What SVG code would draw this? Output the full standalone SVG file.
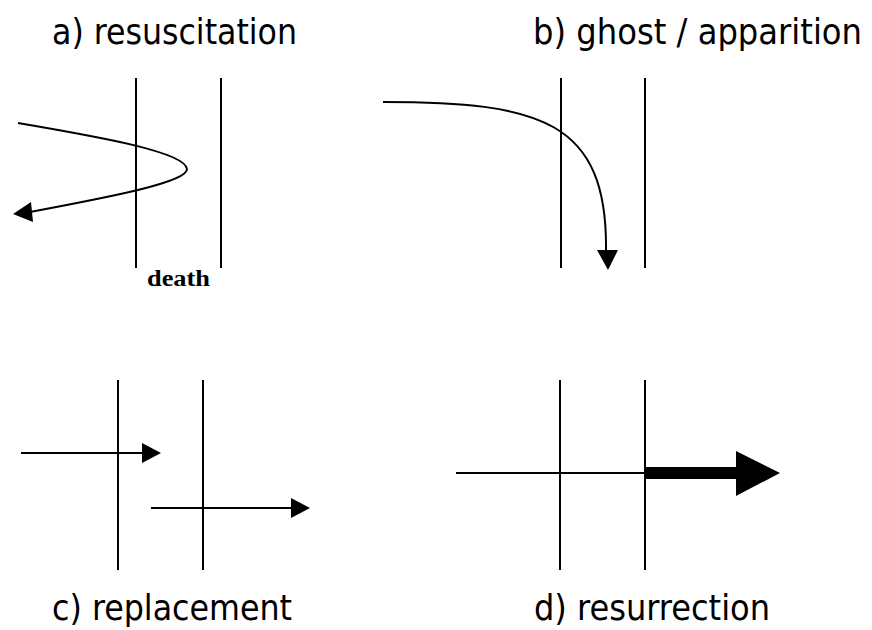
<svg xmlns="http://www.w3.org/2000/svg" width="872" height="630" viewBox="0 0 872 630">
<style>
.title{font-family:"DejaVu Sans Condensed","DejaVu Sans",sans-serif;font-size:35px;fill:#000}
.lbl{font-family:"Liberation Serif","DejaVu Serif",serif;font-weight:bold;font-size:24px;fill:#000}
.bar{stroke:#000;stroke-width:2;fill:none}
.thin{stroke:#000;stroke-width:2;fill:none}
.head{fill:#000;stroke:none}
</style>
<rect width="872" height="630" fill="#fff"/>
<g id="panel-a">
  <text class="title" x="52" y="44" textLength="245" lengthAdjust="spacingAndGlyphs">a) resuscitation</text>
  <line class="bar" x1="136" y1="78" x2="136" y2="268"/>
  <line class="bar" x1="221" y1="78" x2="221" y2="268"/>
  <text class="lbl" x="147" y="286" textLength="63" lengthAdjust="spacingAndGlyphs">death</text>
</g>
<g id="panel-b">
  <text class="title" x="533" y="44" textLength="329" lengthAdjust="spacingAndGlyphs">b) ghost / apparition</text>
  <line class="bar" x1="561" y1="78" x2="561" y2="268"/>
  <line class="bar" x1="645" y1="78" x2="645" y2="268"/>
</g>
<g id="panel-c">
  <text class="title" x="52" y="620" textLength="240" lengthAdjust="spacingAndGlyphs">c) replacement</text>
  <line class="bar" x1="118" y1="380" x2="118" y2="570"/>
  <line class="bar" x1="203" y1="380" x2="203" y2="570"/>
</g>
<g id="panel-d">
  <text class="title" x="534" y="620" textLength="236" lengthAdjust="spacingAndGlyphs">d) resurrection</text>
  <line class="bar" x1="560" y1="380" x2="560" y2="570"/>
  <line class="bar" x1="645" y1="380" x2="645" y2="570"/>
</g>
<g id="connectors">
  <path class="thin" d="M18,123 C100,137 185,152 187,169 C188,182 110,197 30,212"/>
  <polygon class="head" points="13,214 31,202 33,222"/>
  <path class="thin" d="M383,102 C540,102 608,120 606,252"/>
  <polygon class="head" points="597,250 618,250 608,270"/>
  <line class="thin" x1="21" y1="453" x2="143" y2="453"/>
  <polygon class="head" points="142,443 161,453 142,463"/>
  <line class="thin" x1="151" y1="508" x2="292" y2="508"/>
  <polygon class="head" points="291,498 310,508 291,518"/>
  <line class="thin" x1="456" y1="473" x2="646" y2="473"/>
  <rect class="head" x="646" y="467" width="91" height="12"/>
  <polygon class="head" points="736,451 780,473 736,496"/>
</g>
</svg>
